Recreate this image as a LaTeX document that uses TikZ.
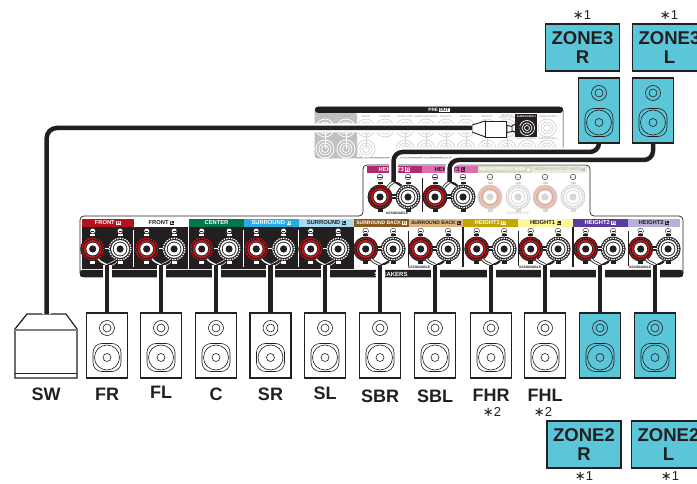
\documentclass[tikz,border=0pt]{standalone}
\usepackage{fontspec}
\setmainfont{Liberation Sans}
\newfontfamily\symfont{DejaVu Sans}
\definecolor{zoneteal}{HTML}{5BC6D8}
\definecolor{inkblack}{HTML}{231F20}
\definecolor{postred}{HTML}{D2141C}
\definecolor{palered}{HTML}{F4A58F}
\definecolor{palegrey}{HTML}{D6D6D6}
\definecolor{frontred}{HTML}{B5121B}
\definecolor{centergreen}{HTML}{00774A}
\definecolor{srndr}{HTML}{29ABE2}
\definecolor{srndl}{HTML}{A6DBF2}
\definecolor{sbackr}{HTML}{8A5A1E}
\definecolor{sbackl}{HTML}{E0B47F}
\definecolor{hgtoner}{HTML}{C4A602}
\definecolor{hgtonel}{HTML}{FFF59A}
\definecolor{hgttwor}{HTML}{5A3C9E}
\definecolor{hgttwol}{HTML}{B8B0D8}
\definecolor{hgtthreer}{HTML}{B02A72}
\definecolor{hgtthreel}{HTML}{DB6DB0}
\definecolor{hgtfourr}{HTML}{D3DDC6}
\definecolor{hgtfourl}{HTML}{E6EDDC}
% one binding post: x, y, disc, ring, nub colour
\newcommand{\bindpost}[5]{%
  \fill[#3] (#1,#2) circle (12.5);
  \draw[#4, line width=1.2, dash pattern=on 1.5pt off 1pt] (#1,#2) circle (10.8);
  \draw[#4, line width=1.5] (#1,#2) circle (8.2);
  \fill[white] (#1,#2) circle (6.4);
  \fill[#3] (#1,#2) circle (3.6);
  \fill[#5] (#1-2.5,#2-15) rectangle (#1+2.5,#2-12.5);
  \fill[#5] (#1-2.5,#2+12.5) rectangle (#1+2.5,#2+15);
}
% polarity mark: x, y, circle fill, mark colour
\newcommand{\polmark}[4]{%
  \draw[inkblack, fill=#3, line width=0.4] (#1,#2) circle (2.8);
  \draw[#4, line width=0.8] (#1-1.6,#2) -- (#1+1.6,#2);
}
% loudspeaker box: name, x, y of centre, fill
\newcommand{\loudspk}[4]{%
  \node[spkbox, fill=#4] (#1) at (#2,#3) {};
  \draw[spkline] (#2,#3-17.5) circle (7.5);
  \draw[spkline] (#2,#3-17.5) circle (4);
  \draw[spkline, rounded corners=9] (#2-14,#3-2) rectangle (#2+14,#3+26);
  \draw[spkline] (#2,#3+12) circle (12.5);
  \draw[spkline] (#2,#3+12) circle (4);
}
% pre out jack: x, y, ring colour
\newcommand{\prejack}[3]{%
  \foreach \rr in {3.5,6,9} {\draw[#3, line width=0.8] (#1,#2) circle (\rr);}
}
\newcommand{\tagbox}[3]{{\setlength{\fboxsep}{0.3pt}\colorbox{#1}{\textcolor{#2}{#3}}}}
\newcommand{\starmark}{{\symfont ∗}}
\begin{document}
\begin{tikzpicture}[x=1pt, y=-1pt, font=\bfseries,
    spkbox/.style={draw=inkblack, line width=1.3, minimum width=41, minimum height=65, inner sep=0},
    spkline/.style={draw=inkblack, line width=0.6},
    zonebox/.style={draw=inkblack, line width=1.3, fill=zoneteal, minimum width=74, minimum height=47, inner sep=0,
      align=center, text=inkblack, font=\bfseries\fontsize{18.5}{18.5}\selectfont},
    spklabel/.style={text=inkblack, inner sep=0, font=\bfseries\fontsize{18}{18}\selectfont},
    noteref/.style={text=inkblack, inner sep=0, font=\mdseries\fontsize{13}{13}\selectfont},
    striptext/.style={inner sep=0, font=\bfseries\fontsize{5.8}{6}\selectfont},
    backtext/.style={inner sep=0, font=\bfseries\fontsize{5}{5}\selectfont},
    widetext/.style={inner sep=0, font=\bfseries\fontsize{4.2}{4.4}\selectfont},
    tinytext/.style={inner sep=0, text=inkblack, font=\bfseries\fontsize{3.4}{3.6}\selectfont},
    pretext/.style={inner sep=0, text=gray!60, align=center, font=\bfseries\fontsize{2.6}{2.8}\selectfont},
    cable/.style={draw=inkblack, line width=4.5, preaction={draw=white, line width=9}},
    zonecable/.style={cable, rounded corners=9},
    whitewire/.style={draw=white, line width=1.4, preaction={draw=inkblack, line width=3}},
    blackwire/.style={draw=inkblack, line width=2.2, preaction={draw=white, line width=3.4}}]
  \useasboundingbox (0,0) rectangle (697,484);
  \clip (0,0) rectangle (697,484);

  % pre out panel
  \draw[inkblack, line width=0.5, fill=white, rounded corners=3] (315,107) rectangle (563,158);
  \fill[palegrey!90!black, rounded corners=2] (315,113) rectangle (357,158);
  \fill[inkblack, rounded corners=3] (315,107) -- (563,107) -- (563,113) -- (315,113) -- cycle;
  \node[inner sep=0, text=white, font=\bfseries\fontsize{4.6}{5}\selectfont] (preout) at (439,110) {PRE \tagbox{white}{inkblack}{OUT}};
  \foreach \jx in {325,346} {\draw[white, line width=0.8] (\jx,128) -- (\jx,149); \prejack{\jx}{128}{white} \prejack{\jx}{149}{white}}
  \foreach \jx in {366,405,426,446,466,487,507} {\draw[palegrey, line width=0.8] (\jx,128) -- (\jx,149); \prejack{\jx}{128}{palegrey} \prejack{\jx}{149}{palegrey}}
  \prejack{385}{128}{palegrey}
  \prejack{547}{128}{palegrey}
  \prejack{527}{149}{palegrey}
  \prejack{547}{149}{palegrey}
  \fill[inkblack] (515,114) rectangle (537,137);
  \foreach \rr in {2.5,5,7.5} {\draw[white, line width=0.7] (527,128) circle (\rr);}
  \foreach \jn/\jx/\jt in {a/325/ZONE2, b/346/ZONE3, c/366/FRONT, d/385/CENTER, e/405/SURROUND, f/426/SURROUND BACK,
      g/446/HEIGHT1, h/466/HEIGHT2, i/487/HEIGHT3, k/548/SUBWOOFER 2} {
    \node[pretext] (pre\jn) at (\jx,117) {\jt};
  }
  \node[pretext] (prej) at (507,116.5) {HEIGHT4/\\FRONT WIDE};
  \node[inner sep=0, text=white, font=\bfseries\fontsize{2.6}{2.8}\selectfont] (presubone) at (526.5,117) {SUBWOOFER 1};
  \node[pretext] (presubthree) at (526.5,138.5) {SUBWOOFER 3};
  \node[pretext] (presubfour) at (548,138.5) {SUBWOOFER 4};

  % speaker terminal panel
  \draw[inkblack, line width=0.7, fill=white, rounded corners=4] (80,216) -- (363,216) -- (363,165) -- (590,165) -- (590,216)
    -- (683,216) -- (683,277) -- (80,277) -- cycle;
  \fill[inkblack] (82,227) rectangle (354,269);
  \fill[inkblack, rounded corners=2] (80,270) rectangle (683,277);
  \foreach \xa/\xb/\col/\tc/\txt/\lt in {82/134/frontred/white/FRONT/R, 134/189/white/inkblack/FRONT/L,
      244/299/srndr/white/SURROUND/R, 299/354/srndl/inkblack/SURROUND/L,
      463/518/hgtoner/white/HEIGHT1/R, 518/573/hgtonel/inkblack/HEIGHT1/L,
      573/628/hgttwor/white/HEIGHT2/R, 628/680/hgttwol/inkblack/HEIGHT2/L} {
    \path[fill=\col] (\xa,219) rectangle node[striptext, text=\tc] (lab\xa) {\txt\ \tagbox{\tc}{\col}{\lt}} (\xb,227);
  }
  \path[fill=sbackr] (354,219) rectangle node[backtext, text=white] (labsbr) {SURROUND BACK \tagbox{white}{sbackr}{R}} (409,227);
  \path[fill=sbackl] (409,219) rectangle node[backtext, text=inkblack] (labsbl) {SURROUND BACK \tagbox{inkblack}{sbackl}{L}} (463,227);
  \path[fill=centergreen] (189,219) rectangle node[striptext, text=white] (labcenter) {CENTER} (244,227);
  \foreach \dx in {133.5,243,298} {\draw[white, line width=1] (\dx,230) -- (\dx,267);}
  \draw[white, line width=1] (188.5,227) -- (188.5,269);
  \foreach \dx in {408,518,628} {\draw[inkblack, line width=0.9] (\dx,231) -- (\dx,266);}
  \foreach \dx in {463,573} {\draw[inkblack, line width=1.2] (\dx,227) -- (\dx,267);}
  \node[inner sep=0, text=white, font=\bfseries\fontsize{6}{6}\selectfont] (speakers) at (391,274) {SPEAKERS};
  \node[tinytext] (assigna) at (419,267) {ASSIGNABLE};
  \node[tinytext] (assignb) at (530,267) {ASSIGNABLE};
  \node[tinytext] (assignc) at (640,267) {ASSIGNABLE};

  % height3 and height4 block
  \path[fill=hgtthreer] (367,166) rectangle node[striptext, text=white] (labhtr) {HEIGHT3 \tagbox{white}{hgtthreer}{R}} (422,173);
  \path[fill=hgtthreel] (422,166) rectangle node[striptext, text=inkblack] (labhtl) {HEIGHT3 \tagbox{inkblack}{hgtthreel}{L}} (478,173);
  \path[fill=hgtfourr] (478,166) rectangle node[widetext, text=white] (labhfr) {HEIGHT4/FRONT WIDE \tagbox{white}{hgtfourr}{R}} (532,173);
  \path[fill=hgtfourl] (532,166) rectangle node[widetext, text=gray!50] (labhfl) {HEIGHT4/FRONT WIDE \tagbox{gray!50}{hgtfourl}{L}} (587,173);
  \draw[inkblack, line width=0.9] (422,178) -- (422,212);
  \foreach \tx in {380,435} {
    \fill[inkblack] (\tx+10,194.5) rectangle (\tx+18,199.5);
    \bindpost{\tx}{197}{inkblack}{postred}{inkblack}
    \bindpost{\tx+28}{197}{inkblack}{white}{inkblack}
    \draw[white, line width=1] (\tx+12,197) -- (\tx+16,197);
    \polmark{\tx}{177}{white}{inkblack}
    \polmark{\tx+28}{177}{white}{inkblack}
  }
  \foreach \tx in {490,545} {
    \bindpost{\tx}{197}{palegrey}{palered}{palegrey}
    \bindpost{\tx+28}{197}{palegrey}{white}{palegrey}
    \polmark{\tx}{177}{white}{palegrey}
    \polmark{\tx+28}{177}{white}{palegrey}
  }
  \node[tinytext] (assignd) at (397,213) {ASSIGNABLE};
  \node[tinytext, text=palegrey] (assigne) at (518,213) {ASSIGNABLE};

  % speaker row
  \foreach \nm/\cx/\lab/\ly/\col/\nbc in {fr/107/FR/394/white/white, fl/161/FL/392/white/white,
      c/216/C/394/white/white, sr/270.5/SR/394/white/white, sl/325/SL/393/white/white,
      sbr/380/SBR/396/white/inkblack, sbl/435/SBL/396/white/inkblack, fhr/491/FHR/395.5/white/inkblack,
      fhl/545/FHL/395.5/white/inkblack, hzr/600/{}/396/zoneteal/inkblack, hzl/655/{}/396/zoneteal/inkblack} {
    \loudspk{spk\nm}{\cx}{345.5}{\col}
    \node[spklabel] (name\nm) at (\cx,\ly) {\lab};
    \fill[inkblack] (\cx-4,246.5) rectangle (\cx+4,251.5);
    \bindpost{\cx-14.3}{249}{inkblack}{postred}{\nbc}
    \bindpost{\cx+13.1}{249}{inkblack}{white}{\nbc}
    \draw[white, line width=1] (\cx-2.5,249) -- (\cx+1.5,249);
    \polmark{\cx-14.3}{231}{white}{inkblack}
    \polmark{\cx+13.1}{231}{white}{inkblack}
    \draw[whitewire] (\cx-9,259) .. controls (\cx-6,263) and (\cx-2,263) .. (\cx,265);
    \draw[blackwire] (\cx+9,261) .. controls (\cx+6,264) and (\cx+3,264) .. (\cx,266);
    \coordinate (term\nm) at (\cx,265);
  }
  \foreach \nm in {fr,fl,c,sr,sl,sbr,sbl,fhr,fhl,hzr,hzl} {
    \draw[cable] (term\nm) -- (spk\nm);
  }

  % subwoofer
  \draw[inkblack, line width=1.2, fill=white] (15,329) -- (27,314) -- (66,314) -- (77,329) -- (77,378) -- (15,378) -- cycle;
  \draw[gray, line width=1.2] (15,330) -- (77,330);
  \draw[inkblack, line width=0.8] (15,373) -- (77,373);
  \node[spklabel] (namesw) at (46,394) {SW};
  \coordinate (swtop) at (46.7,314);

  % rca plug into subwoofer out
  \coordinate (plugend) at (472,128);
  \node[draw=inkblack, line width=0.9, fill=white, minimum width=21, minimum height=16, inner sep=0] (rcaplug) at (496,129) {};
  \draw[inkblack, line width=0.9, fill=white] (472,125) -- (485.5,121) -- (485.5,137) -- (472,132) -- cycle;
  \draw[inkblack, line width=0.9, fill=white] (rcaplug.east) ++(0,-3.5) -- ++(5,1) -- ++(0,5) -- ++(-5,1) -- cycle;
  \draw[inkblack, line width=1] (512,125.5) .. controls (516,123) and (520,126) .. (520,128.5) .. controls (520,131) and (516,133) .. (512,131);
  \draw[cable, rounded corners=10] (plugend) -- (46.7,128) -- (swtop);

  % zone3 speakers and their cables
  \loudspk{spkzthr}{599}{110.5}{zoneteal}
  \loudspk{spkzthl}{653}{110.5}{zoneteal}
  \coordinate (termhtr) at (393.5,182);
  \coordinate (termhtl) at (449.5,182);
  \foreach \hx in {393.5,449.5} {
    \draw[whitewire] (\hx-6,188) .. controls (\hx-4,184) and (\hx-2,184) .. (\hx,182);
    \draw[blackwire] (\hx+8,186) .. controls (\hx+5,183) and (\hx+2,183) .. (\hx,181);
  }
  \draw[zonecable] (spkzthr.south) -- (599,152) -- (393.5,152) -- (termhtr);
  \draw[zonecable] (spkzthl.south) -- (653,160) -- (449.5,160) -- (termhtl);
  \loudspk{spkzthr}{599}{110.5}{zoneteal}
  \loudspk{spkzthl}{653}{110.5}{zoneteal}

  % zone name boxes
  \node[zonebox] (zonethr) at (582.5,47.5) {ZONE3\\R};
  \node[zonebox] (zonethl) at (669.5,47.5) {ZONE3\\L};
  \node[zonebox] (zonetwr) at (584,444.5) {ZONE2\\R};
  \node[zonebox] (zonetwl) at (668.5,444.5) {ZONE2\\L};
  \node[noteref] (notea) at (582,15) {\starmark1};
  \node[noteref] (noteb) at (669,15) {\starmark1};
  \node[noteref] (notec) at (584,476.5) {\starmark1};
  \node[noteref] (noted) at (670,476.5) {\starmark1};
  \node[noteref] (notee) at (492,411.5) {\starmark2};
  \node[noteref] (notef) at (543,411.5) {\starmark2};
\end{tikzpicture}
\end{document}
